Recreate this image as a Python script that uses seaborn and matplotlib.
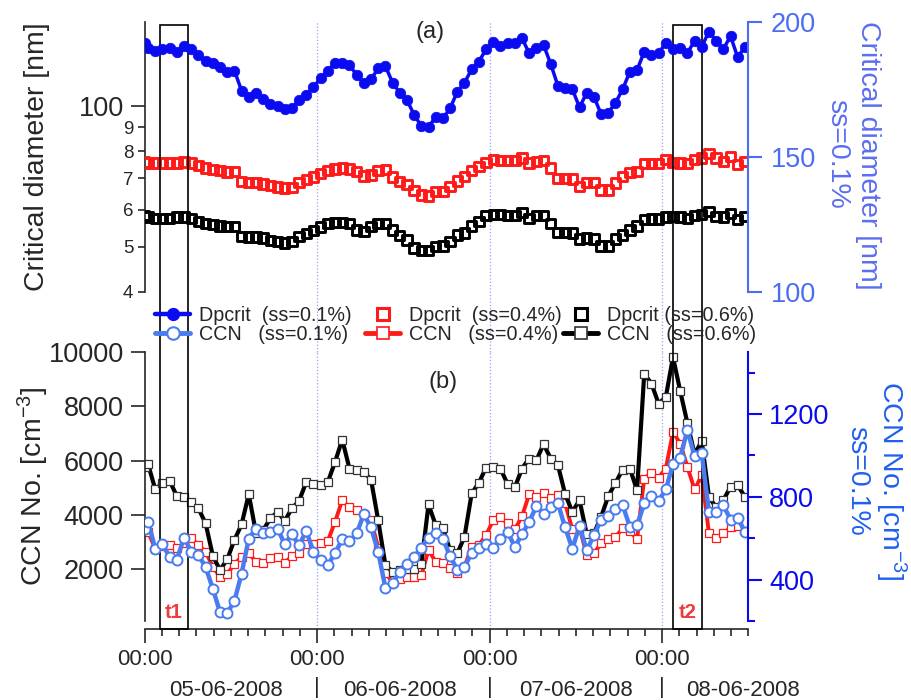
import numpy as np
import pandas as pd
import matplotlib
matplotlib.use('Agg')
import matplotlib.pyplot as plt
import matplotlib.ticker as mticker
from matplotlib.lines import Line2D
from matplotlib.patches import Rectangle
from matplotlib.transforms import blended_transform_factory
import seaborn as sns

# hourly samples (first one at 00:00, then at hh:30), in hours from 05-06-2008 00:00
hours = np.concatenate([[0.0], np.arange(84) + 0.5])

# critical diameter [nm]
dp_01 = [192.3, 190.3, 189.4, 189.9, 190.3, 189.0, 191.2, 189.9, 187.8, 185.7,
         184.7, 183.4, 181.6, 182.0, 174.6, 172.3, 173.6, 171.4, 169.6, 168.9,
         167.7, 168.0, 171.1, 173.0, 176.0, 179.1, 182.0, 184.7, 184.9, 184.1,
         180.4, 177.3, 178.8, 182.8, 183.7, 177.5, 173.8, 171.1, 165.6, 161.5,
         161.2, 164.7, 164.3, 168.0, 174.2, 177.5, 182.5, 185.3, 189.9, 192.7,
         191.1, 192.3, 192.3, 194.0, 188.4, 190.3, 191.5, 184.4, 176.3, 175.4,
         175.1, 168.4, 173.8, 172.3, 165.9, 166.4, 170.1, 175.1, 181.6, 182.2,
         189.0, 187.8, 188.4, 192.3, 189.9, 190.3, 188.4, 193.1, 190.9, 196.4,
         193.1, 189.9, 194.8, 186.9, 190.9]
dp_04 = [75.8, 75.4, 75.4, 75.4, 75.4, 75.4, 75.8, 75.4, 74.6, 73.6,
         73.0, 72.7, 72.2, 72.4, 68.9, 68.6, 68.6, 68.1, 67.5, 67.0,
         66.7, 66.9, 68.6, 69.5, 70.4, 71.6, 72.7, 73.3, 73.6, 73.3,
         72.4, 70.8, 71.2, 72.7, 73.0, 70.4, 68.9, 67.8, 65.9, 64.5,
         64.2, 65.6, 65.6, 67.3, 69.0, 70.6, 72.7, 74.2, 75.7, 76.7,
         76.4, 76.4, 76.4, 77.3, 75.4, 76.1, 76.4, 73.6, 70.0, 70.0,
         69.7, 67.2, 68.6, 68.6, 66.1, 66.1, 68.4, 70.6, 72.1, 72.4,
         75.2, 75.2, 75.2, 76.7, 75.7, 75.4, 75.2, 76.7, 77.3, 79.0,
         77.3, 76.1, 77.9, 74.8, 76.1]
dp_06 = [58.2, 57.8, 57.5, 57.5, 57.5, 57.8, 57.8, 57.5, 56.6, 56.1,
         55.7, 55.4, 55.2, 55.2, 52.6, 52.4, 52.4, 52.2, 51.6, 51.3,
         50.9, 51.3, 52.6, 53.3, 54.2, 55.1, 56.0, 56.3, 56.3, 56.0,
         54.3, 53.9, 55.2, 56.0, 56.1, 54.3, 52.8, 51.7, 49.7, 49.1,
         49.1, 50.1, 50.2, 51.3, 53.0, 53.5, 55.4, 56.6, 58.2, 58.5,
         58.5, 58.2, 58.2, 59.2, 57.5, 58.2, 58.2, 56.1, 53.6, 53.6,
         53.5, 51.9, 52.2, 51.9, 50.2, 50.2, 51.9, 53.0, 54.3, 55.4,
         57.1, 57.3, 57.3, 57.8, 58.0, 57.8, 57.5, 58.2, 58.5, 59.5,
         58.0, 57.8, 58.9, 57.1, 58.0]

# CCN number concentration [cm-3]
ccn_01 = [647, 679, 550, 571, 509, 497, 603, 534, 518, 461,
          356, 243, 238, 296, 429, 598, 647, 623, 631, 647,
          571, 619, 566, 635, 534, 493, 469, 529, 594, 586,
          623, 716, 652, 534, 361, 384, 437, 474, 509, 555,
          603, 623, 598, 513, 448, 461, 529, 555, 571, 555,
          594, 631, 558, 619, 679, 755, 718, 751, 768, 652,
          550, 658, 542, 614, 690, 706, 739, 760, 655, 663,
          768, 803, 780, 836, 958, 990, 1123, 997, 1010, 727,
          727, 760, 690, 700, 630]
ccn_04 = [3543, 3382, 2750, 2856, 2893, 2772, 2955, 3139, 2893, 2647,
          2096, 1728, 1827, 2195, 2463, 2600, 2279, 2243, 2404, 2441,
          2243, 2489, 2600, 2930, 2930, 2978, 3050, 3749, 4547, 4279,
          4179, 3995, 3812, 2800, 1850, 1545, 1632, 1706, 1728, 1790,
          2709, 2280, 2220, 2037, 1853, 2096, 2831, 2893, 3260, 3812,
          3911, 3690, 3470, 3950, 4767, 4668, 4793, 4609, 4731, 4425,
          3470, 3543, 2525, 2588, 2955, 3102, 3200, 3507, 3420, 3102,
          5344, 5551, 5381, 5712, 7057, 6630, 5771, 4940, 5466, 3323,
          3139, 3323, 3543, 3590, 3400]
ccn_06 = [5771, 5870, 4940, 5183, 5256, 4694, 4668, 4462, 4242, 3690,
          2500, 1974, 2367, 3077, 3654, 4767, 3345, 3444, 3874, 4117,
          3786, 4242, 4521, 5219, 5160, 5098, 5219, 5954, 6777, 5712,
          5675, 5587, 5307, 3812, 2158, 1912, 1974, 2000, 2000, 2195,
          4389, 3628, 3507, 2709, 2588, 3198, 4793, 5183, 5749, 5771,
          5712, 5135, 5014, 5712, 6079, 6017, 6605, 6079, 5833, 4767,
          4117, 4547, 3297, 3323, 3933, 4694, 5183, 5675, 5712, 4914,
          9203, 8836, 8100, 8343, 9813, 8564, 7388, 6237, 6726, 4668,
          4278, 4547, 5036, 5098, 4668]

day_ticks = [0, 1, 2, 3]
date_labels = ['05-06-2008', '06-06-2008', '07-06-2008', '08-06-2008']
date_label_pos = [0.47, 1.48, 2.5, 3.47]
events = [('t1', 2.1, 6.1), ('t2', 73.5, 77.5)]  # hours

DP01 = '#0b0bf2'
CCN01 = '#4a7cf0'
RED = '#ff1a1a'
TOP_R = '#4b6cf5'
BOT_R = '#0a0aee'

sns.set_theme(style='ticks')
plt.rcParams['font.family'] = ['Liberation Sans', 'DejaVu Sans']
plt.rcParams['mathtext.fontset'] = 'custom'
plt.rcParams['mathtext.rm'] = 'Liberation Sans'
plt.rcParams['mathtext.it'] = 'Liberation Sans:italic'
plt.rcParams['axes.linewidth'] = 1.2

df = pd.DataFrame({'day': hours / 24, 'dp01': dp_01, 'dp04': dp_04, 'dp06': dp_06,
                   'ccn01': ccn_01, 'ccn04': ccn_04, 'ccn06': ccn_06})

W, H = 912, 700
fig = plt.figure(figsize=(W / 100, H / 100), dpi=100)


def axes_px(left, top, right, bottom):
    return fig.add_axes([left / W, 1 - bottom / H, (right - left) / W, (bottom - top) / H])


ax_a = axes_px(144.5, 22, 748.5, 292)
ax_b = axes_px(144.5, 352, 748.5, 621)
ax_a.patch.set_visible(False)
ax_b.patch.set_visible(False)

# ---- (a) critical diameter
ax_a.set_yscale('log')
sns.scatterplot(data=df, x='day', y='dp04', ax=ax_a, marker='s', s=46, facecolor='none',
                edgecolor=RED, linewidth=2.1, legend=False, zorder=3)
sns.scatterplot(data=df, x='day', y='dp06', ax=ax_a, marker='s', s=46, facecolor='none',
                edgecolor='black', linewidth=2.1, legend=False, zorder=3)
ax_a2 = ax_a.twinx()
sns.lineplot(data=df, x='day', y='dp01', ax=ax_a2, color=DP01, lw=2.5, marker='o', markersize=7.6,
             markeredgecolor=DP01, markeredgewidth=0.5, estimator=None, sort=False, legend=False)

ax_a.set_xlim(0, 3.5)
ax_a.set_ylim(40, 151)
ax_a2.set_ylim(100, 200)
for ax in (ax_a, ax_a2):
    ax.set_xlabel('')
    ax.set_ylabel('')
    ax.spines['top'].set_visible(False)
    ax.spines['bottom'].set_visible(False)
ax_a.spines['right'].set_visible(False)
ax_a2.spines['left'].set_visible(False)
ax_a2.spines['right'].set_color(TOP_R)
ax_a2.spines['right'].set_linewidth(1.5)
ax_a.tick_params(axis='x', which='both', bottom=False, labelbottom=False)

ax_a.yaxis.set_major_locator(mticker.FixedLocator([100]))
ax_a.yaxis.set_major_formatter(mticker.FixedFormatter(['100']))
ax_a.yaxis.set_minor_locator(mticker.FixedLocator([40, 50, 60, 70, 80, 90]))
ax_a.yaxis.set_minor_formatter(mticker.FixedFormatter(['4', '5', '6', '7', '8', '9']))
ax_a.tick_params(axis='y', which='major', direction='out', length=10, width=1.2, labelsize=19.5, pad=5)
ax_a.tick_params(axis='y', which='minor', direction='out', length=5, width=1.2, labelsize=13.5, pad=3)
ax_a2.set_yticks([100, 150, 200])
ax_a2.tick_params(axis='y', direction='out', length=10, width=1.5, labelsize=19.5, pad=6,
                  colors=TOP_R)

# ---- (b) CCN number
sns.lineplot(data=df, x='day', y='ccn04', ax=ax_b, color=RED, lw=2.8, marker='s', markersize=5.2,
             markerfacecolor='white', markeredgecolor=RED, markeredgewidth=0.9,
             estimator=None, sort=False, legend=False)
sns.lineplot(data=df, x='day', y='ccn06', ax=ax_b, color='black', lw=3.0, marker='s', markersize=5.2,
             markerfacecolor='white', markeredgecolor='#333333', markeredgewidth=0.9,
             estimator=None, sort=False, legend=False)
ax_b2 = ax_b.twinx()
sns.lineplot(data=df, x='day', y='ccn01', ax=ax_b2, color=CCN01, lw=3.2, marker='o', markersize=7.2,
             markerfacecolor='white', markeredgecolor=CCN01, markeredgewidth=1.4,
             estimator=None, sort=False, legend=False)

ax_b.set_xlim(0, 3.5)
ax_b.set_ylim(100, 10000)
ax_b2.set_ylim(200, 1500)
for ax in (ax_b, ax_b2):
    ax.set_xlabel('')
    ax.set_ylabel('')
    ax.spines['top'].set_visible(False)
ax_b.spines['right'].set_visible(False)
ax_b2.spines['left'].set_visible(False)
ax_b2.spines['bottom'].set_visible(False)
ax_b2.spines['right'].set_color(BOT_R)
ax_b2.spines['right'].set_linewidth(1.5)
ax_b.spines['bottom'].set_position(('outward', 6))

ax_b.set_yticks([2000, 4000, 6000, 8000, 10000])
ax_b.tick_params(axis='y', direction='out', length=10, width=1.2, labelsize=19.5, pad=5)
ax_b2.set_yticks([400, 800, 1200])
ax_b2.yaxis.set_minor_locator(mticker.FixedLocator([200, 600, 1000, 1400]))
ax_b2.tick_params(axis='y', which='major', direction='out', length=10, width=1.5, labelsize=19.5,
                  pad=5, colors=BOT_R)
ax_b2.tick_params(axis='y', which='minor', direction='out', length=5, width=1.5, colors=BOT_R)

ax_b.set_xticks(day_ticks)
ax_b.set_xticklabels(['00:00'] * len(day_ticks))
ax_b.xaxis.set_minor_locator(mticker.MultipleLocator(0.1))
ax_b.tick_params(axis='x', which='major', direction='out', length=10, width=1.2, labelsize=16, pad=4)
ax_b.tick_params(axis='x', which='minor', direction='out', length=5, width=1.2)

# day separators (dotted) through both panels
gap_a = (352 - 292) / 270
for d in day_ticks[1:]:
    ax_a.axvline(d, ymin=-gap_a, ymax=1, clip_on=False, color='#9c9cff', ls=':', lw=0.9, zorder=0)
    ax_b.axvline(d, ymin=-8 / 269, ymax=1, clip_on=False, color='#9c9cff', ls=':', lw=0.9, zorder=0)

# t1 / t2 boxes spanning both panels
trans_b = blended_transform_factory(ax_b.transData, ax_b.transAxes)
y_lo = (621 - 629) / 269
y_hi = (621 - 25) / 269
for name, h0, h1 in events:
    ax_b.add_patch(Rectangle((h0 / 24, y_lo), (h1 - h0) / 24, y_hi - y_lo, transform=trans_b,
                             fill=False, ec='black', lw=1.2, clip_on=False, zorder=5))
    ax_b.text((h0 + h1) / 48, (621 - 613) / 269, name, transform=trans_b, ha='center', va='center',
              color='#ee3b3b', fontsize=14.5, fontweight='bold')

# date labels under the time ticks
trans_d = blended_transform_factory(ax_b.transData, fig.transFigure)
for pos, lab in zip(date_label_pos, date_labels):
    ax_b.text(pos, 1 - 690 / H, lab, transform=trans_d, ha='center', va='center', fontsize=16,
              clip_on=False)
for d in day_ticks[1:]:
    ax_b.text(d, 1 - 688 / H, '|', transform=trans_d, ha='center', va='center', fontsize=16,
              clip_on=False)

# axis titles
fig.text(37 / W, 1 - 157 / H, 'Critical diameter [nm]', rotation=90, ha='center', va='center',
         fontsize=20.5)
fig.text(33 / W, 1 - 486 / H, 'CCN No. [cm$^{-3}$]', rotation=90, ha='center', va='center',
         fontsize=20.5)
fig.text(868 / W, 1 - 155 / H, 'Critical diameter [nm]', rotation=270, ha='center', va='center',
         fontsize=20.5, color='#5b6ef0')
fig.text(837 / W, 1 - 154 / H, 'ss=0.1%', rotation=270, ha='center', va='center',
         fontsize=20.5, color='#5b6ef0')
fig.text(891 / W, 1 - 481 / H, 'CCN No. [cm$^{-3}$]', rotation=270, ha='center', va='center',
         fontsize=20.5, color='#1f5ff0')
fig.text(857 / W, 1 - 481 / H, 'ss=0.1%', rotation=270, ha='center', va='center',
         fontsize=20.5, color='#1f5ff0')
fig.text(430 / W, 1 - 32 / H, '(a)', ha='center', va='center', fontsize=17)
fig.text(443 / W, 1 - 382 / H, '(b)', ha='center', va='center', fontsize=17)

# legend, three columns placed between the panels
h_dp01 = Line2D([], [], color=DP01, lw=3.2, marker='o', ms=8.5, mec=DP01)
h_ccn01 = Line2D([], [], color=CCN01, lw=3.5, marker='o', ms=9, mfc='white', mec=CCN01, mew=1.5)
h_dp04 = Line2D([], [], ls='none', marker='s', ms=8.5, mfc='none', mec=RED, mew=2.2)
h_ccn04 = Line2D([], [], color=RED, lw=3.5, marker='s', ms=8.5, mfc='white', mec=RED, mew=1.2)
h_dp06 = Line2D([], [], ls='none', marker='s', ms=8.5, mfc='none', mec='black', mew=2.2)
h_ccn06 = Line2D([], [], color='black', lw=3.5, marker='s', ms=8.5, mfc='white', mec='#333333', mew=1.2)
columns = [
    (155, [h_dp01, h_ccn01], ['Dpcrit  (ss=0.1%)', 'CCN   (ss=0.1%)']),
    (365, [h_dp04, h_ccn04], ['Dpcrit  (ss=0.4%)', 'CCN   (ss=0.4%)']),
    (563, [h_dp06, h_ccn06], ['Dpcrit (ss=0.6%)', 'CCN   (ss=0.6%)']),
]
for x0, hs, labs in columns:
    fig.legend(handles=hs, labels=labs, loc='upper left', bbox_to_anchor=(x0 / W, 1 - 306 / H),
               bbox_transform=fig.transFigure, frameon=False, fontsize=14.2, handlelength=1.8,
               handletextpad=0.45, labelspacing=0.02, borderpad=0, borderaxespad=0)

fig.savefig('out.png', dpi=100, facecolor='white')
